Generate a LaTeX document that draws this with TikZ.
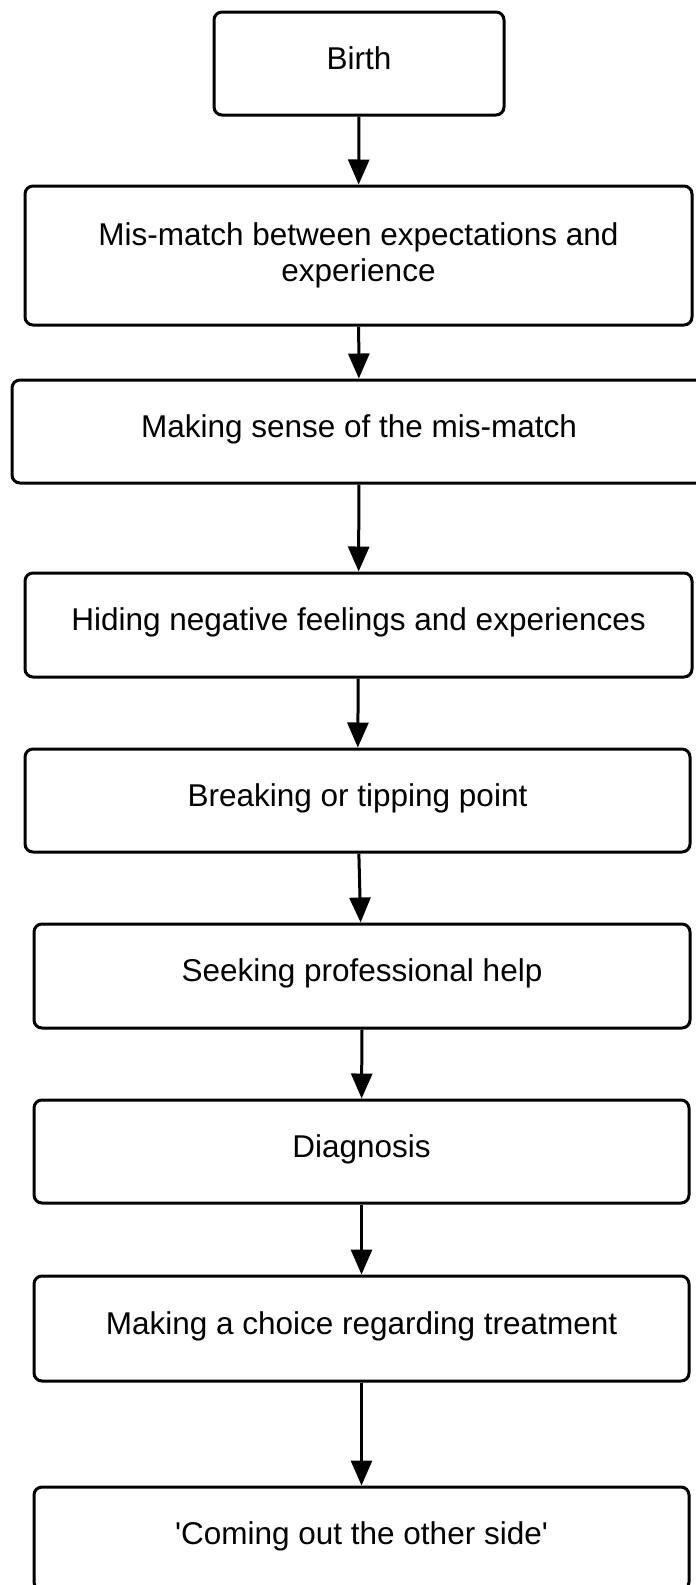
\documentclass[tikz,border=0pt]{standalone}
\usepackage{fontspec}
\setmainfont{Liberation Sans}
\usetikzlibrary{arrows.meta}

\begin{document}
\begin{tikzpicture}[x=1pt,y=-1pt,>={Triangle[length=25pt,width=21pt]},line width=3pt,
  stage/.style={draw,rounded corners=8pt,align=center,inner sep=0pt,
    font=\fontsize{31.5}{36}\selectfont,text height=20pt,text depth=9pt}]
\useasboundingbox (0,0) rectangle (696,1585);
\node[stage,minimum width=290pt,minimum height=103pt] (birth) at (359,63.5) {Birth};
\node[stage,minimum width=667pt,minimum height=139pt,text height={},text depth={}] (mismatch) at (358.5,255.5) {Mis-match between expectations and\\experience};
\node[stage,minimum width=694pt,minimum height=103pt] (sense) at (359,431.5) {Making sense of the mis-match};
\node[stage,minimum width=667pt,minimum height=104pt] (hiding) at (358.5,625) {Hiding negative feelings and experiences};
\node[stage,minimum width=665pt,minimum height=103pt] (breaking) at (357.5,800.5) {Breaking or tipping point};
\node[stage,minimum width=656pt,minimum height=104pt] (seeking) at (362,976) {Seeking professional help};
\node[stage,minimum width=655pt,minimum height=103pt] (diagnosis) at (361.5,1151.5) {Diagnosis};
\node[stage,minimum width=655pt,minimum height=105pt] (choice) at (361.5,1328.5) {Making a choice regarding treatment};
\node[stage,minimum width=655pt,minimum height=103pt] (other) at (361.5,1538.5) {\textquotesingle Coming out the other side\textquotesingle};
\draw[->] (birth) -- (mismatch);
\draw[->] (mismatch) -- (sense);
\draw[->] (sense) -- (hiding);
\draw[->] (hiding) -- (breaking);
\draw[->] (breaking) -- (seeking);
\draw[->] (seeking) -- (diagnosis);
\draw[->] (diagnosis) -- (choice);
\draw[->] (choice) -- (other);
\end{tikzpicture}
\end{document}
